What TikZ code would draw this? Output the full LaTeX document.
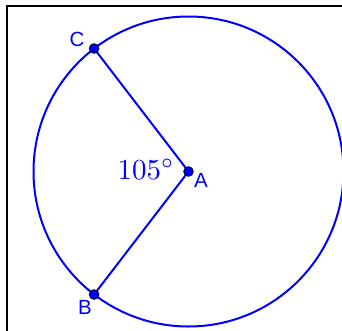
\documentclass[tikz,border=0pt]{standalone}
\usepackage{fontspec}
\newfontfamily\labfont{Liberation Sans}
\begin{document}
\begin{tikzpicture}[x=1pt,y=-1pt,
  geo/.style={draw=blue, line width=2pt},
  pt/.style={circle, fill=blue, draw=blue!25!black, line width=1pt, inner sep=0pt, minimum size=9.5pt},
  lab/.style={text=blue, font=\labfont\fontsize{20.5}{22}\selectfont, inner sep=0pt}]
\useasboundingbox (0,0) rectangle (342,330);
\draw[line width=2pt] (6.5,331) -- (6.5,5.5) -- (343,5.5);
\coordinate (A) at (188.5,171.5);
\coordinate (C) at (94.1,48.5);
\coordinate (B) at (94.1,294.5);
\draw[geo] (A) circle[radius=155pt];
\draw[geo] (C) -- (A) -- (B);
\node[pt] (pA) at (A) {};
\node[pt] (pB) at (B) {};
\node[pt] (pC) at (C) {};
\node[lab] (lA) at (201,180.5) {A};
\node[lab] (lB) at (85,307.5) {B};
\node[lab] (lC) at (77,39.5) {C};
\node[text=blue, inner sep=0pt] (ang) at (146,169.5) {\scalebox{2.9}{$105^\circ$}};
\end{tikzpicture}
\end{document}
